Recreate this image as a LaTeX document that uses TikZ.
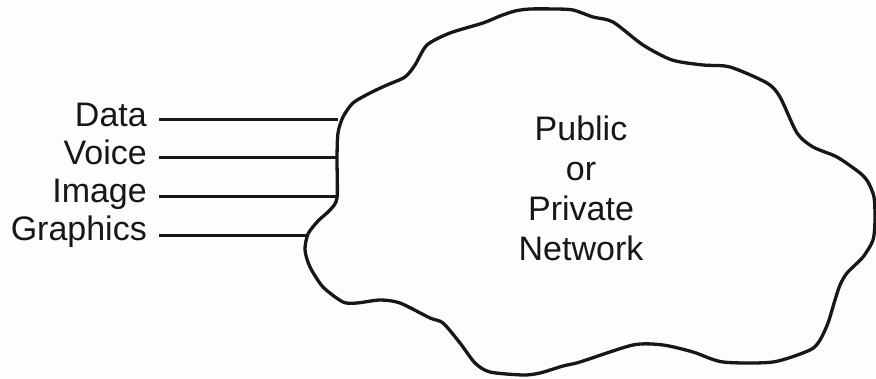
\documentclass[tikz,border=0pt]{standalone}
\usepackage{fontspec}
\setmainfont{Liberation Sans}
\definecolor{paper}{RGB}{253,253,251}
\definecolor{ink}{RGB}{25,22,22}
\begin{document}
\begin{tikzpicture}[x=1pt,y=-1pt,
  label/.style={anchor=base east, inner sep=0pt, text=ink,
    font=\fontsize{34}{40}\selectfont},
  feed/.style={draw=ink, line width=3pt},
  cloudline/.style={draw=ink, line width=3.3pt, line join=round},
  nettext/.style={anchor=north, inner sep=0pt, align=center, text=ink,
    font=\fontsize{34}{40}\selectfont}]
  % page
  \fill[paper] (0,0) rectangle (876,379);
  \useasboundingbox (0,0) rectangle (876,379);

  % the network cloud
  \draw[cloudline] plot[smooth cycle, tension=0.45] coordinates {
    (308,234) (318,221) (330,210) (337,198) (337,158) (338,133)
    (343,117) (353,103) (370,93) (387,85) (405,77) (415,65) (427,45)
    (450,33) (483,23) (500,16) (515,11) (530,9) (555,9) (573,10)
    (593,17) (613,22) (643,45) (672,60) (703,65) (730,67) (767,83)
    (780,97) (797,133) (813,147) (837,157) (860,173) (868,182)
    (874,197) (875,220) (873,240) (863,257) (847,273) (840,285)
    (835,300) (828,323) (820,340) (810,350) (773,362) (723,362)
    (693,352) (663,345) (633,345) (580,362) (563,366) (540,373)
    (523,375) (490,372) (475,363) (460,343) (443,323) (430,318)
    (400,303) (380,300) (357,303) (343,302) (323,287) (310,267)
    (305,250)};

  % points where the feeds meet the cloud
  \coordinate (jData) at (338,120);
  \coordinate (jVoice) at (337,158);
  \coordinate (jImage) at (337,197);
  \coordinate (jGraphics) at (308,236);

  % traffic types
  \node[label] (data) at (147,127) {Data};
  \node[label] (voice) at (147,165) {Voice};
  \node[label] (image) at (147,203) {Image};
  \node[label] (graphics) at (147,241) {Graphics};

  \draw[feed] ([xshift=12pt]data.east |- jData) -- (jData);
  \draw[feed] ([xshift=12pt]voice.east |- jVoice) -- (jVoice);
  \draw[feed] ([xshift=12pt]image.east |- jImage) -- (jImage);
  \draw[feed] ([xshift=12pt]graphics.east |- jGraphics) -- (jGraphics);

  % cloud caption
  \node[nettext] (net) at (581,116) {Public\\or\\Private\\Network};
\end{tikzpicture}
\end{document}
